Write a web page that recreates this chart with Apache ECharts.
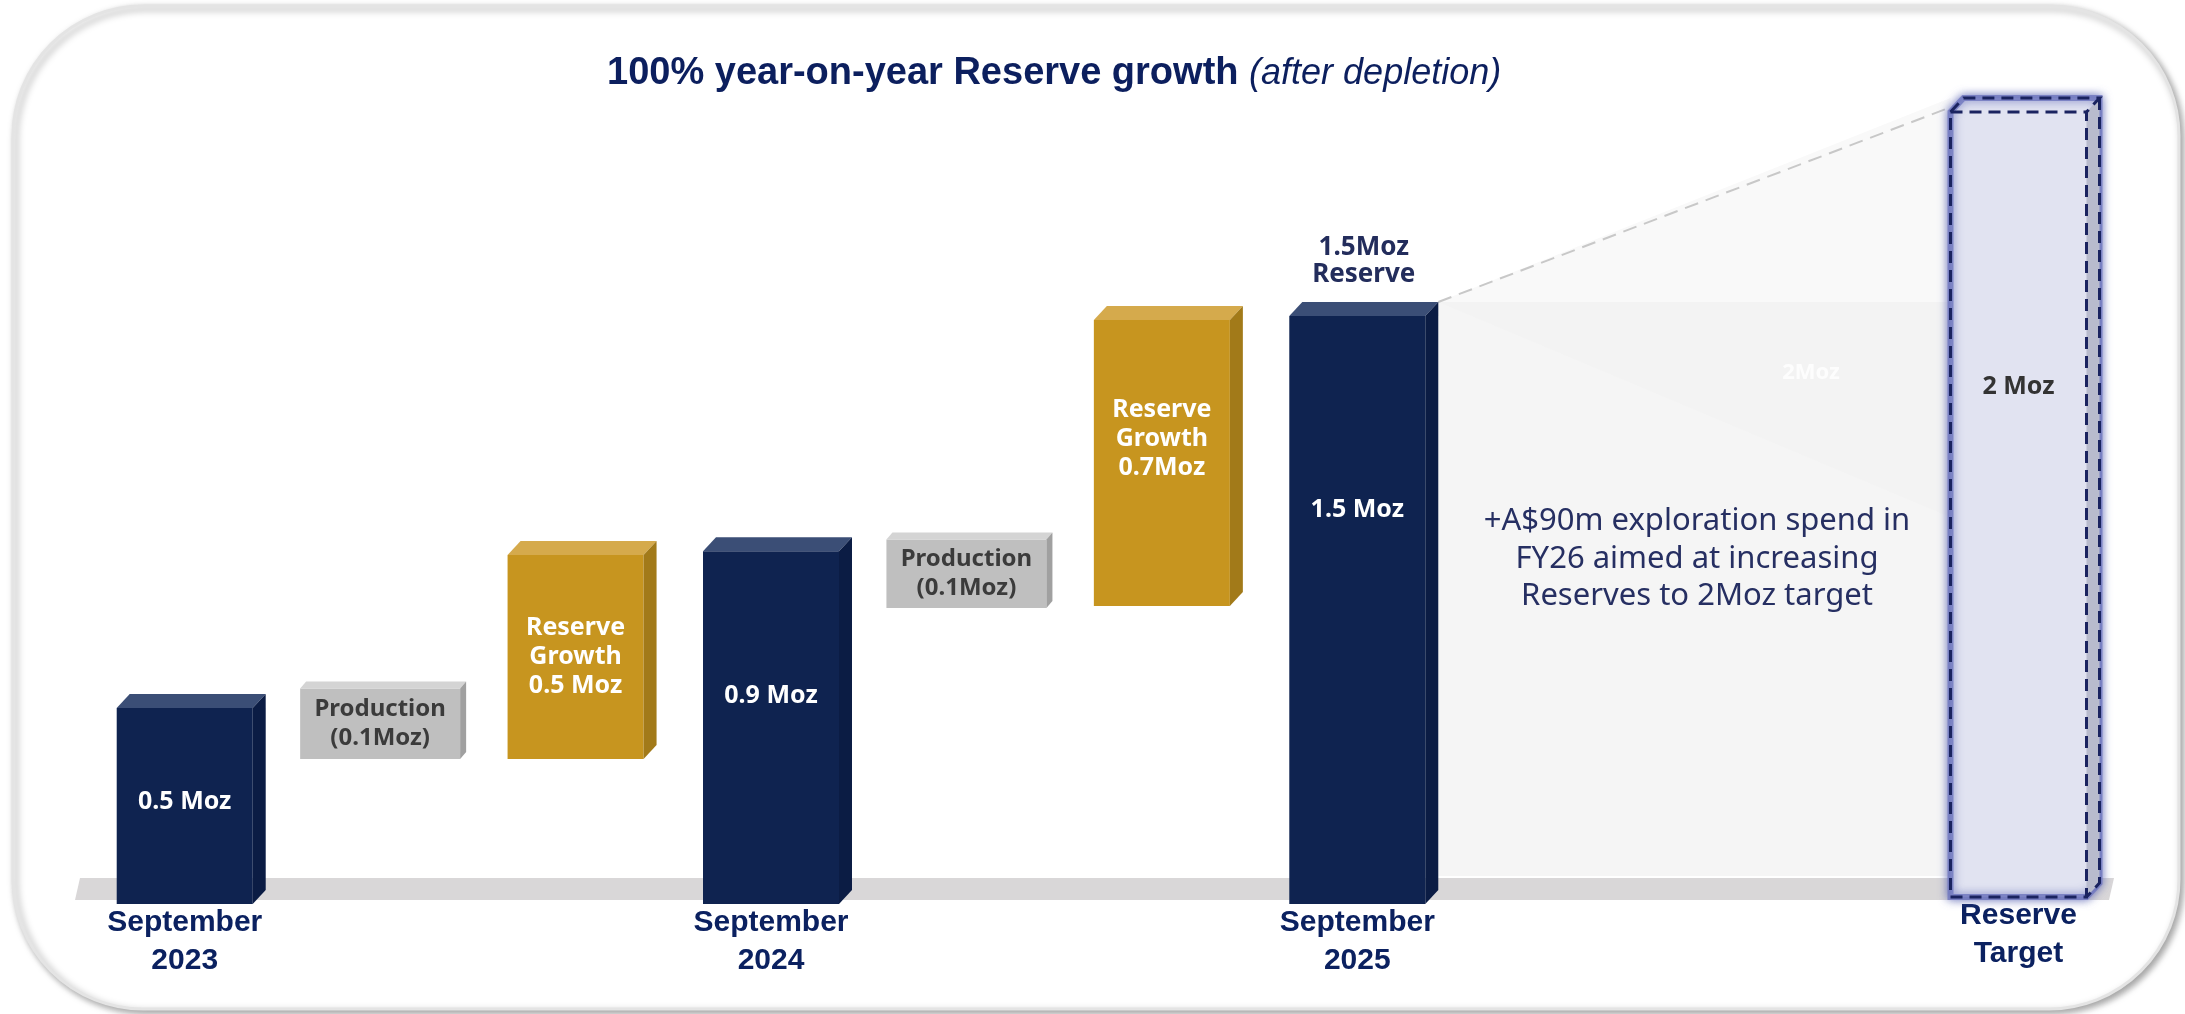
<!DOCTYPE html>
<html>
<head>
<meta charset="utf-8">
<script src="https://cdn.jsdelivr.net/npm/echarts@6/dist/echarts.min.js"></script>
<style>
  html, body { margin: 0; padding: 0; background: #fff; }
  #chart { width: 2185px; height: 1014px; }
</style>
</head>
<body>
<div id="chart"></div>
<script>
// waterfall steps (Moz)
const categories = ['September\n2023', '', '', 'September\n2024', '', '', 'September\n2025'];
const stepKind = ['total', 'production', 'growth', 'total', 'production', 'growth', 'total'];
const stepLow = [0, 0.37, 0.37, 0, 0.755, 0.76, 0];
const stepHigh = [0.5, 0.55, 0.89, 0.9, 0.93, 1.49, 1.5];
const stepLabels = ['0.5 Moz', 'Production\n(0.1Moz)', 'Reserve\nGrowth\n0.5 Moz', '0.9 Moz',
  'Production\n(0.1Moz)', 'Reserve\nGrowth\n0.7Moz', '1.5 Moz'];
const topLabels = ['', '', '', '', '', '', '1.5Moz\nReserve'];

const targetCategory = ['Reserve\nTarget'];
const targetValue = [2.0];
const targetLabel = ['2 Moz'];

// where the label sits inside each box (fraction of height from the bottom)
const labelFrac = [0.52, 0.5, 0.5, 0.59, 0.5, 0.585, 0.67];

const BOX = {
  total: { w: 136, dx: 13, dy: 14, front: '#0f2350', top: '#3b4e76', side: '#0b1c44',
    text: '#ffffff', size: 25, lh: 29 },
  growth: { w: 136, dx: 13, dy: 14, front: '#c7951f', top: '#d5aa4c', side: '#a27a19',
    text: '#ffffff', size: 25, lh: 29 },
  production: { w: 160, dx: 6, dy: 7, front: '#bfbfbf', top: '#d4d4d4', side: '#a0a0a0',
    text: '#3b3b3b', size: 24, lh: 29 }
};

const chart = echarts.init(document.getElementById('chart'));

function renderStep(params, api) {
  const i = params.dataIndex;
  const st = BOX[stepKind[i]];
  const top = api.coord([api.value(0), api.value(2)]);
  const bot = api.coord([api.value(0), api.value(1)]);
  const xl = top[0] - st.w / 2, xr = top[0] + st.w / 2, yt = top[1], yb = bot[1];
  const children = [
    { type: 'rect', shape: { x: xl, y: yt, width: st.w, height: yb - yt }, style: { fill: st.front } },
    { type: 'polygon', shape: { points: [[xl, yt], [xl + st.dx, yt - st.dy], [xr + st.dx, yt - st.dy], [xr, yt]] },
      style: { fill: st.top } },
    { type: 'polygon', shape: { points: [[xr, yt], [xr + st.dx, yt - st.dy], [xr + st.dx, yb - st.dy], [xr, yb]] },
      style: { fill: st.side } },
    { type: 'text', style: {
      text: stepLabels[i], x: top[0], y: yb - labelFrac[i] * (yb - yt),
      align: 'center', verticalAlign: 'middle', fill: st.text,
      fontSize: st.size, fontWeight: 'bold', fontFamily: 'Noto Sans', lineHeight: st.lh } }
  ];
  if (topLabels[i]) {
    children.push({ type: 'text', style: {
      text: topLabels[i], x: top[0] + st.dx / 2, y: yt - st.dy - 14,
      align: 'center', verticalAlign: 'bottom', fill: '#232d5c',
      fontSize: 26, fontWeight: 'bold', fontFamily: 'Noto Sans', lineHeight: 27 } });
  }
  return { type: 'group', children: children };
}

function renderTarget(params, api) {
  const top = api.coord([api.value(0), api.value(1)]);
  const bot = api.coord([api.value(0), 0]);
  const w = 136, dx = 13, dy = 14;
  const xl = top[0] - w / 2, xr = top[0] + w / 2, yt = top[1], yb = bot[1];
  const dash = { stroke: '#1a2360', lineWidth: 3, lineDash: [12, 7], fill: null };
  return {
    type: 'group',
    children: [
      { type: 'polygon', shape: { points: [[xl, yb], [xl, yt], [xl + dx, yt - dy], [xr + dx, yt - dy], [xr + dx, yb - dy], [xr, yb]] },
        style: { fill: '#e1e3f1', stroke: 'rgba(110,118,190,0.8)', lineWidth: 6, shadowBlur: 10, shadowColor: 'rgba(90,100,180,0.9)' } },
      { type: 'polygon', shape: { points: [[xr, yt], [xr + dx, yt - dy], [xr + dx, yb - dy], [xr, yb]] },
        style: { fill: '#b8bbcd' } },
      { type: 'rect', shape: { x: xl, y: yt, width: w, height: yb - yt }, style: Object.assign({}, dash) },
      { type: 'polyline', shape: { points: [[xl, yt], [xl + dx, yt - dy], [xr + dx, yt - dy], [xr, yt]] },
        style: Object.assign({}, dash) },
      { type: 'polyline', shape: { points: [[xr + dx, yt - dy], [xr + dx, yb - dy], [xr, yb]] },
        style: Object.assign({}, dash) },
      { type: 'text', style: {
        text: targetLabel[params.dataIndex], x: top[0], y: yb - 0.65 * (yb - yt),
        align: 'center', verticalAlign: 'middle', fill: '#333333',
        fontSize: 25, fontWeight: 'bold', fontFamily: 'Noto Sans' } }
    ]
  };
}

const xLabel = {
  interval: 0, margin: 0, color: '#0b2160', fontSize: 30, fontWeight: 'bold',
  fontFamily: 'Liberation Sans', lineHeight: 38
};

const option = {
  animation: false,
  title: {
    text: '{b|100% year-on-year Reserve growth}{s| }{i|(after depletion)}',
    left: 607, top: 55, padding: 0,
    textStyle: {
      rich: {
        b: { fontSize: 38, fontWeight: 'bold', fontFamily: 'Liberation Sans', color: '#0c1f5e' },
        s: { fontSize: 38, fontWeight: 'normal', fontFamily: 'Liberation Sans' },
        i: { fontSize: 36, fontStyle: 'italic', fontWeight: 'normal', fontFamily: 'Liberation Sans', color: '#0c1f5e' }
      }
    }
  },
  grid: [
    { left: 87, width: 1368, top: 120, bottom: 110 },
    { left: 1921, width: 195, top: 112, bottom: 117 }
  ],
  xAxis: [
    { type: 'category', gridIndex: 0, data: categories, axisLine: { show: false }, axisTick: { show: false }, axisLabel: xLabel },
    { type: 'category', gridIndex: 1, data: targetCategory, axisLine: { show: false }, axisTick: { show: false }, axisLabel: xLabel }
  ],
  yAxis: [
    { type: 'value', gridIndex: 0, min: 0, max: 2, show: false },
    { type: 'value', gridIndex: 1, min: 0, max: 2, show: false }
  ],
  series: [
    {
      type: 'custom', xAxisIndex: 0, yAxisIndex: 0, z: 3,
      renderItem: renderStep,
      encode: { x: 0, y: [1, 2] },
      data: stepLow.map((lo, i) => [i, lo, stepHigh[i]])
    },
    {
      type: 'custom', xAxisIndex: 1, yAxisIndex: 1, z: 3,
      renderItem: renderTarget,
      encode: { x: 0, y: 1 },
      data: targetValue.map((v, i) => [i, v])
    }
  ]
};

chart.setOption(option);

// background pieces placed from the axes' own pixel mapping
const b3 = chart.convertToPixel({ gridIndex: 0 }, [6, stepHigh[6]]);
const base = chart.convertToPixel({ gridIndex: 0 }, [0, 0]);
const tg = chart.convertToPixel({ gridIndex: 1 }, [0, targetValue[0]]);
const wallL = b3[0] + 68 + 13, wallT = b3[1] - 14;
const tgL = tg[0] - 68;
const floorTop = base[1] - 26, floorBot = base[1] - 4;
const slope = 0.42;

chart.setOption({
  graphic: [
    { type: 'rect', z: 0, shape: { x: 13, y: 6, width: 2166, height: 1003, r: 130 },
      style: { fill: '#ffffff', stroke: '#e4e4e4', lineWidth: 3, shadowBlur: 7, shadowOffsetX: 3, shadowOffsetY: 3, shadowColor: 'rgba(0,0,0,0.35)' } },
    { type: 'polygon', z: 1, shape: { points: [[80, floorTop], [2114, floorTop], [2109, floorBot], [75, floorBot]] },
      style: { fill: '#d9d7d8' } },
    { type: 'polygon', z: 1, shape: { points: [[wallL, wallT], [tgL, tg[1] - 14], [tgL, wallT]] },
      style: { fill: '#f9f9f9' } },
    { type: 'rect', z: 1, shape: { x: wallL, y: wallT, width: tgL - wallL, height: floorTop - 2 - wallT },
      style: { fill: '#f5f5f5' } },
    { type: 'polygon', z: 1, shape: { points: [[wallL, wallT], [tgL, wallT], [tgL, wallT + slope * (tgL - wallL)]] },
      style: { fill: '#f3f3f3' } },
    { type: 'line', z: 1, shape: { x1: wallL, y1: wallT, x2: tgL + 6, y2: tg[1] - 7 },
      style: { stroke: '#c8c8c8', lineWidth: 2, lineDash: [14, 8] } },
    { type: 'text', z: 1, style: { text: '2Moz', x: 1811, y: 373, align: 'center', verticalAlign: 'middle',
      fill: '#fdfdfd', fontSize: 22, fontWeight: 'bold', fontFamily: 'Noto Sans' } },
    { type: 'text', z: 1, style: {
      text: '+A$90m exploration spend in\nFY26 aimed at increasing\nReserves to 2Moz target',
      x: 1697, y: 559, align: 'center', verticalAlign: 'middle', fill: '#262f62',
      fontSize: 31, fontFamily: 'Noto Sans', lineHeight: 37.5 } }
  ]
});
</script>
</body>
</html>
